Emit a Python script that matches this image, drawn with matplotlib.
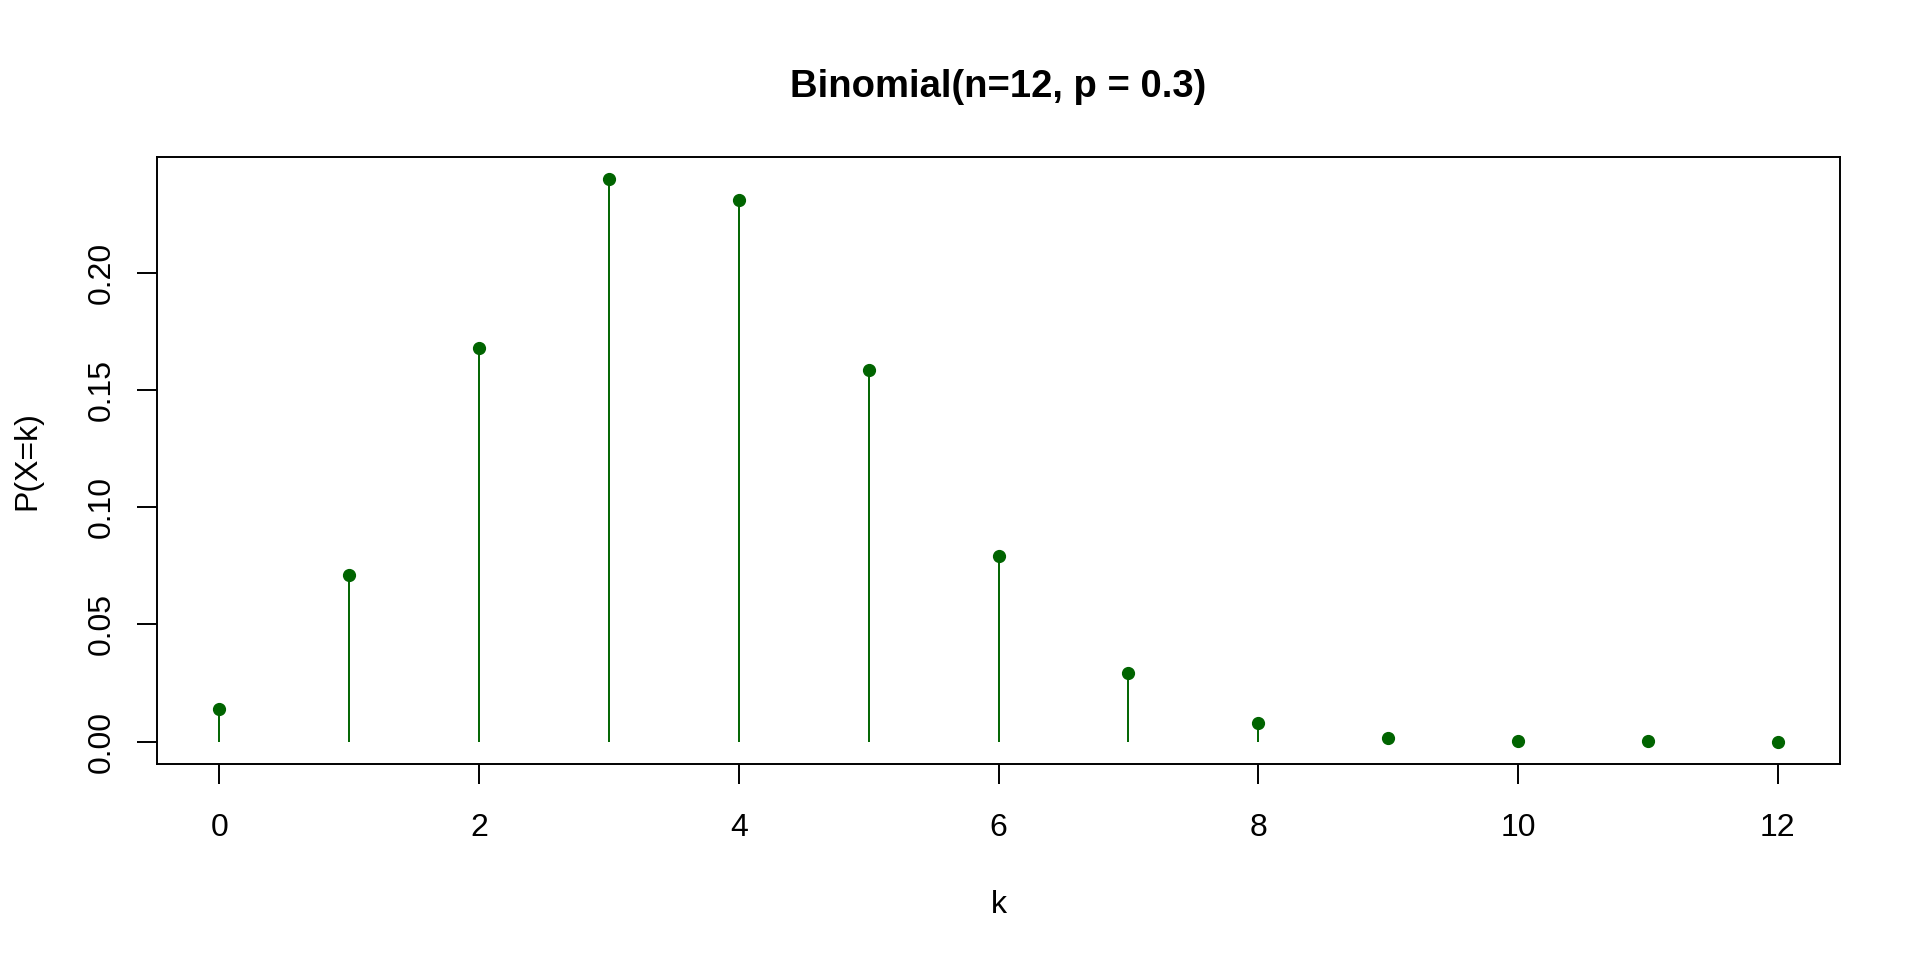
import matplotlib
matplotlib.use("Agg")
import matplotlib.pyplot as plt

# values: P(X=k) for Binomial(12, 0.3)
k_values = [0, 1, 2, 3, 4, 5, 6, 7, 8, 9, 10, 11, 12]
probabilities = [0.0138, 0.0712, 0.1678, 0.2397, 0.2311, 0.1585, 0.0792,
                 0.0291, 0.0078, 0.0015, 0.0002, 0.00001, 0.0]
x_ticks = [0, 2, 4, 6, 8, 10, 12]
y_ticks = [0.00, 0.05, 0.10, 0.15, 0.20]

plt.rcParams["font.family"] = ["Liberation Sans", "DejaVu Sans"]

fig = plt.figure(figsize=(19.2, 9.6), dpi=100)
ax = fig.add_axes([157 / 1920, 1 - 764 / 960, 1683 / 1920, 607 / 960])

ax.vlines(k_values, 0, probabilities, color="#006400", linewidth=1.4)
ax.plot(k_values, probabilities, "o", color="#006400", markersize=8.5)

# R-style 4% axis extension
ax.set_xlim(-0.48, 12.48)
ymax = max(probabilities)
ax.set_ylim(-0.04 * ymax, 1.04 * ymax)

ax.set_xticks(x_ticks)
ax.set_yticks(y_ticks)
ax.set_xticklabels([str(t) for t in x_ticks])
ax.set_yticklabels([f"{t:.2f}" for t in y_ticks])

for s in ax.spines.values():
    s.set_linewidth(1.4)
ax.tick_params(axis="both", length=14.4, width=1.4, labelsize=23)
ax.tick_params(axis="x", pad=21)
ax.tick_params(axis="y", pad=14.8, labelrotation=90)
plt.setp(ax.get_yticklabels(), va="center")

ax.set_xlabel("k", fontsize=23, va="center")
ax.xaxis.set_label_coords(0.5, (764 - 905) / 607)
ax.set_ylabel("P(X=k)", fontsize=23, va="center")
ax.yaxis.set_label_coords((27 - 157) / 1683, 0.5)

ax.set_title("Binomial(n=12, p = 0.3)", fontsize=27.5, fontweight="bold",
             y=(764 - 87) / 607, va="center", pad=0)

fig.savefig("out.png", dpi=100)
